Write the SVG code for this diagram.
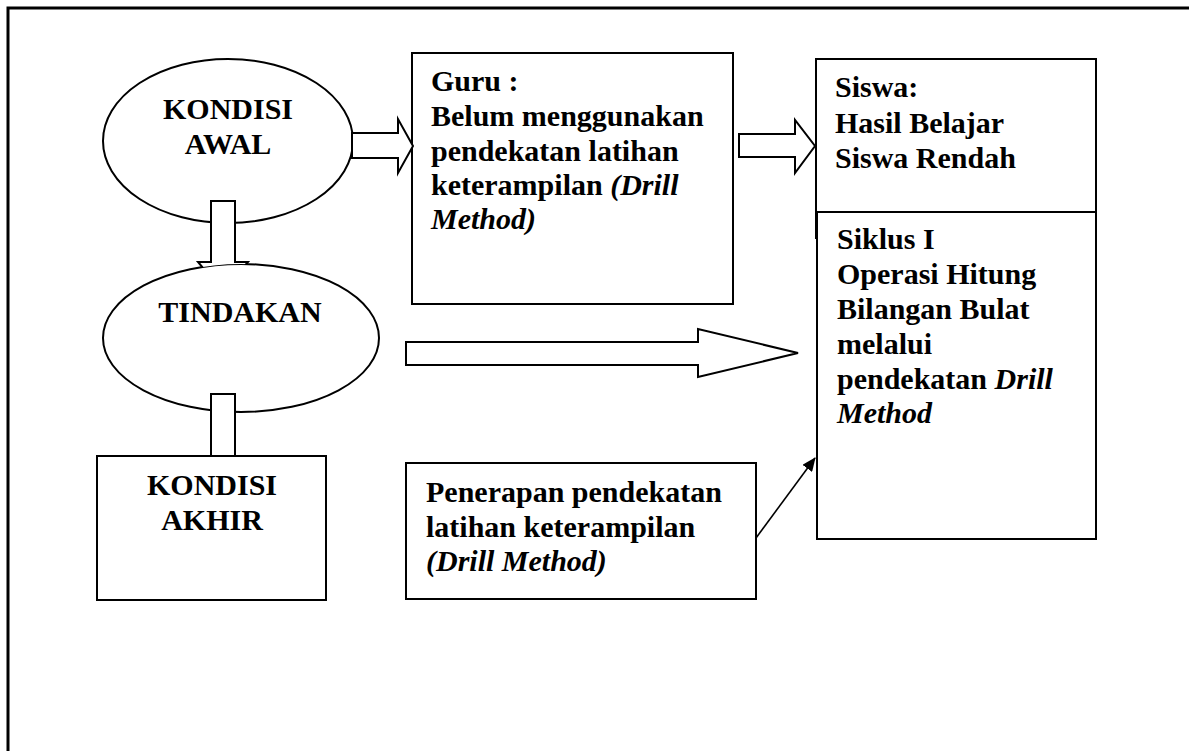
<svg xmlns="http://www.w3.org/2000/svg" width="1189" height="751" viewBox="0 0 1189 751">
<style>
.s{fill:#fff;stroke:#000;stroke-width:2}
.t{font-family:"Liberation Serif","Times New Roman",serif;font-weight:bold;font-size:30px;fill:#000}
.c{text-anchor:middle}
.i{font-style:italic}
.ln{fill:none;stroke:#000;stroke-width:1.6}
</style>
<defs>
<marker id="ah" markerWidth="14" markerHeight="12" refX="13" refY="6" orient="auto" markerUnits="userSpaceOnUse">
<path d="M0,0 L14,6 L0,12 Z" fill="#000"/>
</marker>
<mask id="mT" maskUnits="userSpaceOnUse" x="0" y="0" width="1189" height="751">
<rect x="0" y="0" width="1189" height="751" fill="#fff"/>
<ellipse cx="241" cy="338" rx="138" ry="74" fill="#000"/>
</mask>
</defs>
<rect x="0" y="0" width="1189" height="751" fill="#fff"/>
<path d="M8,751 L8,8 L1189,8" fill="none" stroke="#000" stroke-width="3"/>

<g id="kondisi-awal">
<ellipse class="s" cx="228" cy="141" rx="125" ry="82"/>
<text class="t c" x="228" y="119">KONDISI</text>
<text class="t c" x="228" y="154">AWAL</text>
</g>

<g id="tindakan">
<ellipse class="s" cx="241" cy="338" rx="138" ry="74"/>
<text class="t c" x="240" y="322">TINDAKAN</text>
</g>

<g id="kondisi-akhir">
<rect class="s" x="97" y="456" width="229" height="144"/>
<text class="t c" x="212" y="495">KONDISI</text>
<text class="t c" x="212" y="530">AKHIR</text>
</g>

<g id="guru">
<rect class="s" x="412" y="53" width="321" height="251"/>
<text class="t" x="431" y="91">Guru :</text>
<text class="t" x="431" y="126">Belum menggunakan</text>
<text class="t" x="431" y="161">pendekatan latihan</text>
<text class="t" x="431" y="195">keterampilan <tspan class="i">(Drill</tspan></text>
<text class="t i" x="431" y="229">Method)</text>
</g>

<g id="siswa">
<rect class="s" x="816" y="59" width="280" height="179"/>
<text class="t" x="835" y="97">Siswa:</text>
<text class="t" x="835" y="133">Hasil Belajar</text>
<text class="t" x="835" y="168">Siswa Rendah</text>
</g>

<g id="siklus">
<rect class="s" x="817" y="212" width="279" height="327"/>
<text class="t" x="837" y="249">Siklus I</text>
<text class="t" x="837" y="284">Operasi Hitung</text>
<text class="t" x="837" y="319">Bilangan Bulat</text>
<text class="t" x="837" y="354">melalui</text>
<text class="t" x="837" y="389">pendekatan <tspan class="i">Drill</tspan></text>
<text class="t i" x="837" y="423">Method</text>
</g>

<g id="penerapan">
<rect class="s" x="406" y="463" width="350" height="136"/>
<text class="t" x="426" y="502">Penerapan pendekatan</text>
<text class="t" x="426" y="537">latihan keterampilan</text>
<text class="t i" x="426" y="571">(Drill Method)</text>
</g>

<g id="connectors">
<polygon class="s" points="352,133 398,133 398,119 413,146 398,173 398,158 352,158"/>
<polygon class="s" points="739,134 795,134 795,120 815,146 795,173 795,157 739,157"/>
<polygon class="s" mask="url(#mT)" points="211,201 235,201 235,262 248,262 223,292 198,262 211,262"/>
<rect class="s" x="211" y="394" width="24" height="62"/>
<polygon class="s" points="406,342 698,342 698,329 798,353 698,377 698,365 406,365"/>
<line class="ln" x1="756" y1="538" x2="815" y2="458" marker-end="url(#ah)"/>
</g>
</svg>
